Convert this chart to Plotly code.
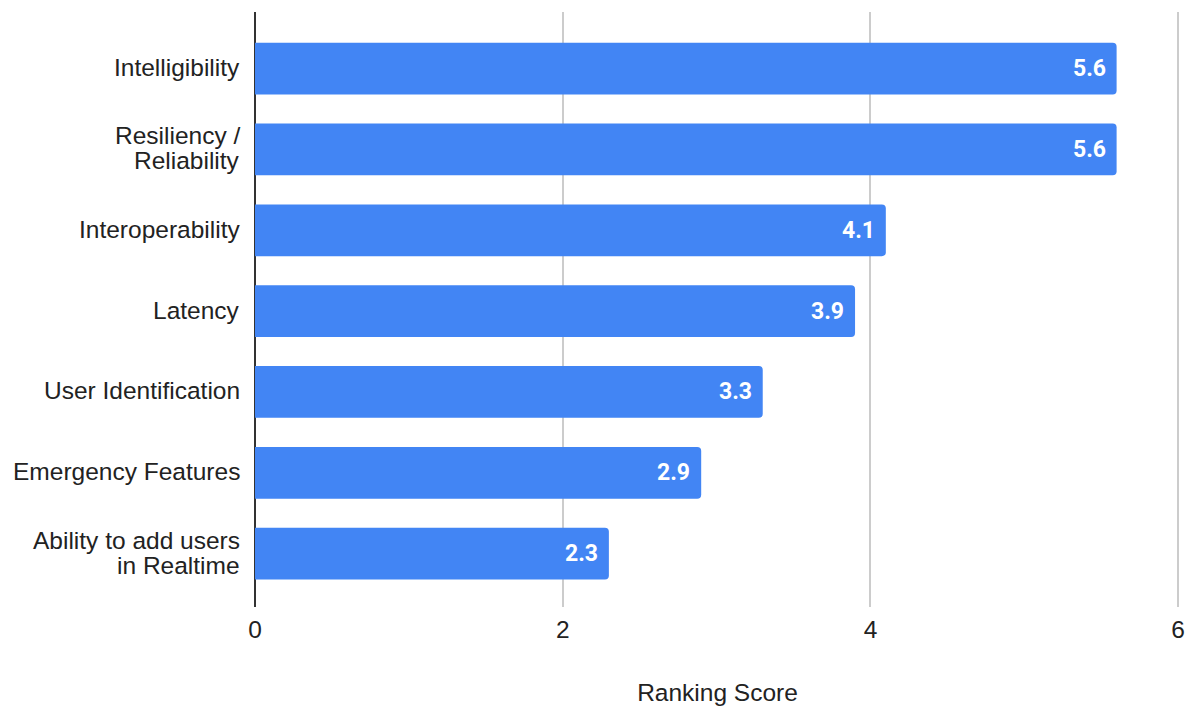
import plotly.graph_objects as go

# Ranking scores per requirement
categories = [
    "Intelligibility",
    "Resiliency /<br>Reliability",
    "Interoperability",
    "Latency",
    "User Identification",
    "Emergency Features",
    "Ability to add users<br>in Realtime",
]
scores = [5.6, 5.6, 4.1, 3.9, 3.3, 2.9, 2.3]
x_ticks = [0, 2, 4, 6]

BAR_COLOR = "#4285F4"
TEXT_COLOR = "#222222"
LABEL_FONT = "Liberation Sans, Arial"
LABEL_SIZE = 24.5
LINE_GAP = 25  # px between lines of a wrapped category label

fig = go.Figure(
    go.Bar(
        y=categories,
        x=scores,
        orientation="h",
        marker=dict(color=BAR_COLOR, cornerradius=4, line=dict(width=0)),
        width=0.64,
        hoverinfo="x+y",
    )
)

# value labels at the end of each bar
for cat, val in zip(categories, scores):
    fig.add_annotation(
        x=val, y=cat, xref="x", yref="y",
        text=f"{val:.1f}", showarrow=False,
        xanchor="right", xshift=-9,
        font=dict(family="Roboto", size=23, color="white", weight="bold"),
    )

# category labels, drawn line by line for tight line spacing
for cat in categories:
    lines = cat.split("<br>")
    n = len(lines)
    for i, line in enumerate(lines):
        fig.add_annotation(
            x=0, y=cat, xref="paper", yref="y",
            text=line, showarrow=False,
            xanchor="right", yanchor="middle",
            xshift=-13, yshift=((n - 1) / 2 - i) * LINE_GAP + 1,
            font=dict(family=LABEL_FONT, size=LABEL_SIZE, color=TEXT_COLOR),
        )

fig.update_layout(
    width=1190, height=708,
    margin=dict(l=255, r=10, t=12, b=101, autoexpand=False),
    plot_bgcolor="white", paper_bgcolor="white",
    showlegend=False,
    font=dict(family=LABEL_FONT, size=LABEL_SIZE, color=TEXT_COLOR),
    xaxis=dict(
        range=[0, 6.012],
        tickvals=x_ticks,
        ticktext=[str(t) for t in x_ticks],
        showgrid=True, gridcolor="#cccccc", gridwidth=2,
        zeroline=True, zerolinecolor="#333333", zerolinewidth=2,
        showline=False,
        ticks="outside", ticklen=1, tickcolor="rgba(0,0,0,0)",
        ticklabeloverflow="allow",
        tickfont=dict(size=LABEL_SIZE, color=TEXT_COLOR),
        title=dict(text="Ranking Score", font=dict(size=LABEL_SIZE, color=TEXT_COLOR), standoff=41),
        automargin=False,
        fixedrange=True,
    ),
    yaxis=dict(
        categoryorder="array", categoryarray=categories,
        range=[6.66, -0.7],
        showgrid=False, zeroline=False, showline=False,
        showticklabels=False, ticks="",
        automargin=False,
        fixedrange=True,
    ),
)

fig.write_html("out.html")
